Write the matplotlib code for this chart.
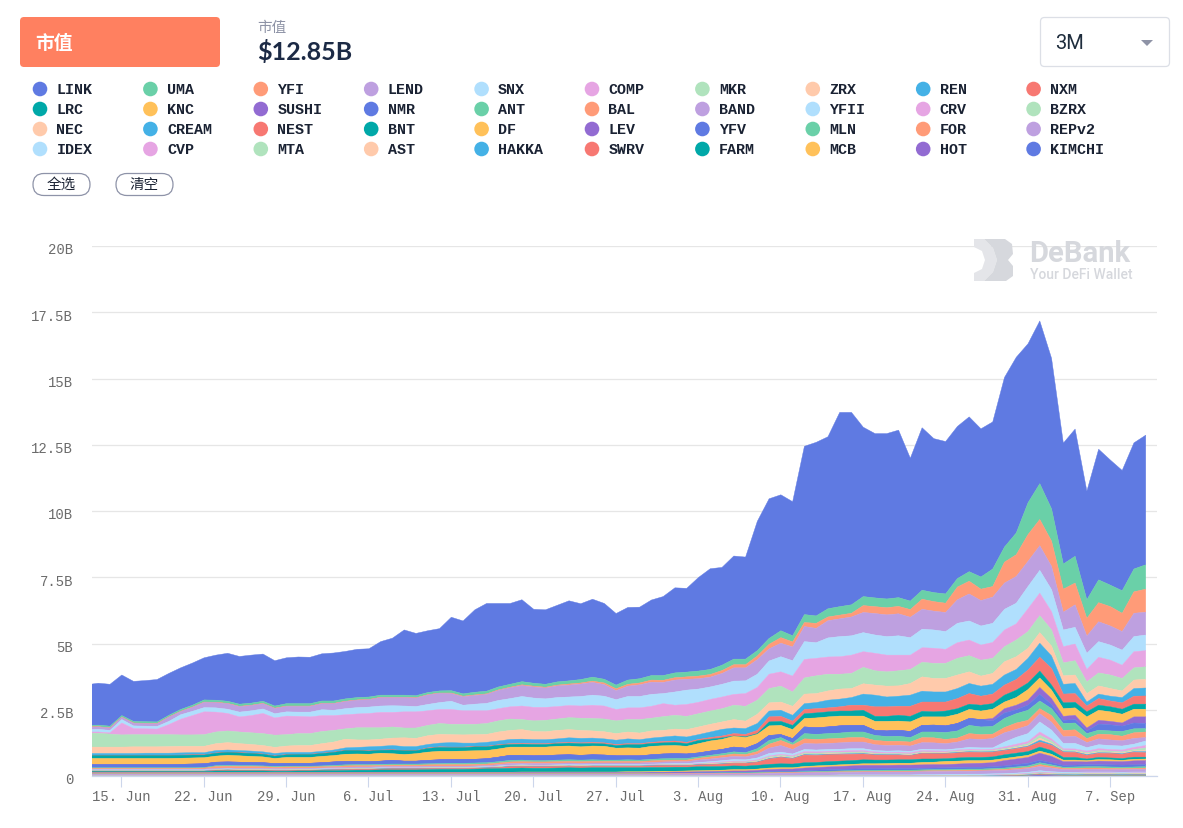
import matplotlib
matplotlib.use("Agg")
import matplotlib.pyplot as plt
import pandas as pd
from matplotlib.patches import FancyBboxPatch, Circle, Polygon
from matplotlib.transforms import ScaledTranslation

W, H = 1183, 829
dates = pd.date_range("2020-06-12", periods=91, freq="D")
tick_dates = pd.date_range("2020-06-15", periods=13, freq="7D")
x_labels = ["15. Jun","22. Jun","29. Jun","6. Jul","13. Jul","20. Jul","27. Jul","3. Aug","10. Aug","17. Aug","24. Aug","31. Aug","7. Sep"]
y_ticks = [0, 2.5, 5, 7.5, 10, 12.5, 15, 17.5, 20]
y_labels = ["0","2.5B","5B","7.5B","10B","12.5B","15B","17.5B","20B"]

names = ["LINK","UMA","YFI","LEND","SNX","COMP","MKR","ZRX","REN","NXM",
         "LRC","KNC","SUSHI","NMR","ANT","BAL","BAND","YFII","CRV","BZRX",
         "NEC","CREAM","NEST","BNT","DF","LEV","YFV","MLN","FOR","REPv2",
         "IDEX","CVP","MTA","AST","HAKKA","SWRV","FARM","MCB","HOT","KIMCHI"]
palette = ["#5f7ae2","#6ad0a8","#ff9b78","#bea0e0","#b0dffd","#e6a5e3","#b0e3bd","#ffcaab","#44b1e6","#f77872","#00a8a8","#ffc15a","#926bd2"]

# Upper edge of each stacked band, in billions
LINK_top = [3.46,3.52,3.48,3.83,3.59,3.62,3.66,3.89,4.10,4.28, 4.48,4.58,4.65,4.53,4.58,4.62,4.37,4.48,4.51,4.50, 4.63,4.66,4.72,4.80,4.82,5.09,5.22,5.53,5.40,5.50, 5.58,6.01,5.87,6.29,6.53,6.53,6.53,6.67,6.31,6.29, 6.46,6.63,6.52,6.69,6.53,6.15,6.38,6.39,6.66,6.79, 7.12,7.10,7.51,7.84,7.89,8.32,8.28,9.63,10.48,10.63, 10.37,12.46,12.61,12.82,13.74,13.74,13.18,12.94,12.94,13.07, 12.01,13.16,12.75,12.64,13.21,13.57,13.12,13.38,15.06,15.82, 16.33,17.19,15.78,12.58,13.11,10.77,12.35,11.94,11.55,12.59, 12.88]
UMA_top = [1.93,1.94,1.90,2.30,2.08,2.07,2.06,2.31,2.53,2.69, 2.89,2.88,2.84,2.73,2.77,2.84,2.66,2.75,2.75,2.75, 2.85,2.85,2.93,2.98,3.00,3.07,3.07,3.07,3.05,3.17, 3.23,3.24,3.12,3.18,3.22,3.38,3.48,3.58,3.52,3.48, 3.57,3.61,3.66,3.75,3.67,3.45,3.64,3.69,3.81,3.81, 3.91,3.94,3.98,4.04,4.20,4.43,4.43,4.75,5.21,5.50, 5.31,6.11,6.06,6.33,6.41,6.48,6.79,6.74,6.70,6.75, 6.62,7.03,6.94,6.89,7.47,7.73,7.53,7.83,8.66,9.19, 10.33,11.05,10.10,8.02,8.31,6.67,7.42,7.22,7.01,7.83, 7.99]
YFI_top = [1.87,1.88,1.84,2.24,2.02,2.01,2.00,2.25,2.46,2.62, 2.81,2.80,2.76,2.65,2.69,2.76,2.58,2.66,2.66,2.66, 2.76,2.76,2.84,2.89,2.91,2.99,2.99,2.99,2.97,3.09, 3.15,3.15,3.03,3.08,3.12,3.27,3.37,3.46,3.41,3.37, 3.45,3.49,3.53,3.60,3.53,3.31,3.48,3.53,3.64,3.63, 3.73,3.76,3.79,3.85,4.00,4.22,4.22,4.55,4.99,5.24, 5.08,5.81,5.78,6.02,6.09,6.16,6.45,6.41,6.37,6.42, 6.30,6.69,6.60,6.54,7.15,7.37,7.07,7.17,8.09,8.37, 9.13,9.70,8.88,7.07,7.30,5.97,6.56,6.41,6.16,6.97, 7.07]
LEND_top = [1.86,1.87,1.83,2.23,2.01,2.00,1.99,2.24,2.45,2.61, 2.80,2.79,2.75,2.64,2.68,2.75,2.57,2.65,2.65,2.65, 2.75,2.75,2.83,2.88,2.90,2.98,2.98,2.98,2.96,3.08, 3.14,3.13,3.01,3.06,3.10,3.25,3.35,3.43,3.38,3.34, 3.42,3.45,3.49,3.55,3.47,3.24,3.41,3.46,3.56,3.55, 3.64,3.67,3.69,3.75,3.89,4.10,4.10,4.41,4.82,5.03, 4.89,5.66,5.59,5.88,5.95,6.02,6.19,6.15,6.10,6.14, 6.01,6.31,6.24,6.19,6.67,6.89,6.64,6.77,7.30,7.55, 8.12,8.71,7.93,6.20,6.48,5.30,5.84,5.68,5.47,6.16, 6.20]
SNX_top = [1.77,1.78,1.74,2.15,1.91,1.90,1.89,2.08,2.33,2.46, 2.60,2.59,2.54,2.43,2.48,2.55,2.37,2.44,2.43,2.43, 2.52,2.50,2.56,2.60,2.62,2.66,2.67,2.66,2.64,2.72, 2.79,2.84,2.69,2.73,2.76,2.87,2.94,3.02,2.96,2.93, 2.98,3.00,3.02,3.07,3.03,2.90,3.02,3.02,3.10,3.13, 3.19,3.26,3.30,3.38,3.48,3.60,3.61,3.86,4.36,4.52, 4.37,5.09,5.05,5.23,5.28,5.31,5.43,5.34,5.28,5.31, 5.24,5.56,5.53,5.47,5.78,5.87,5.68,5.78,6.31,6.54, 7.17,7.78,7.05,5.53,5.63,4.65,5.09,4.96,4.77,5.28, 5.34]
COMP_top = [1.68,1.68,1.65,2.02,1.81,1.80,1.79,1.96,2.16,2.30, 2.44,2.43,2.38,2.25,2.30,2.38,2.21,2.28,2.27,2.25, 2.30,2.30,2.33,2.36,2.38,2.42,2.42,2.44,2.44,2.48, 2.53,2.53,2.48,2.48,2.48,2.56,2.63,2.66,2.61,2.61, 2.64,2.68,2.66,2.69,2.66,2.53,2.59,2.59,2.65,2.75, 2.69,2.72,2.80,2.91,3.00,3.10,3.13,3.36,3.86,3.95, 3.79,4.42,4.46,4.51,4.52,4.58,4.71,4.65,4.58,4.58, 4.58,4.86,4.84,4.80,5.05,5.15,4.96,5.06,5.53,5.76, 6.33,6.92,6.22,4.90,5.00,4.04,4.50,4.39,4.20,4.71, 4.75]
MKR_top = [1.64,1.63,1.60,1.57,1.58,1.58,1.58,1.58,1.57,1.57, 1.58,1.68,1.72,1.68,1.65,1.62,1.56,1.58,1.62,1.62, 1.70,1.74,1.80,1.84,1.84,1.84,1.87,1.83,1.83,1.93, 2.00,1.97,1.97,1.97,2.00,2.10,2.17,2.15,2.10,2.12, 2.17,2.22,2.20,2.19,2.17,2.10,2.15,2.15,2.20,2.26, 2.31,2.27,2.37,2.47,2.56,2.69,2.65,2.88,3.32,3.41, 3.19,3.72,3.80,3.86,3.86,3.89,4.12,3.99,3.95,3.99, 4.04,4.31,4.27,4.27,4.46,4.56,4.39,4.46,4.90,5.15, 5.47,6.07,5.53,4.29,4.37,3.57,3.91,3.83,3.70,4.10, 4.14]
ZRX_top = [1.11,1.11,1.11,1.11,1.12,1.12,1.12,1.13,1.14,1.14, 1.14,1.24,1.28,1.24,1.21,1.17,1.10,1.15,1.17,1.17, 1.24,1.30,1.41,1.38,1.38,1.41,1.45,1.46,1.44,1.54, 1.59,1.58,1.57,1.58,1.59,1.68,1.74,1.77,1.70,1.69, 1.74,1.77,1.74,1.72,1.69,1.62,1.68,1.64,1.72,1.74, 1.79,1.77,1.87,1.97,2.06,2.15,2.09,2.35,2.78,2.81, 2.65,3.11,3.13,3.23,3.30,3.32,3.50,3.45,3.41,3.42, 3.51,3.76,3.70,3.70,3.83,3.95,3.79,3.89,4.33,4.52, 4.84,5.43,4.92,3.80,3.83,3.13,3.42,3.32,3.23,3.64, 3.67]
REN_top = [.87,.87,.87,.87,.87,.88,.88,.88,.89,.90, .90,.98,1.00,.98,.96,.93,.87,.91,.91,.91, .95,1.00,1.08,1.10,1.12,1.14,1.17,1.13,1.13,1.21, 1.26,1.28,1.26,1.26,1.29,1.34,1.40,1.41,1.39,1.39, 1.42,1.46,1.44,1.45,1.42,1.37,1.42,1.39,1.45,1.49, 1.53,1.49,1.58,1.68,1.78,1.83,1.81,2.00,2.47,2.50, 2.31,2.75,2.79,2.88,2.92,2.98,3.11,3.07,3.00,3.03, 3.07,3.22,3.19,3.19,3.32,3.51,3.41,3.48,3.83,4.04, 4.46,5.03,4.55,3.48,3.51,2.81,3.11,3.03,2.98,3.32, 3.34]
NXM_top = [.80,.80,.80,.80,.80,.80,.80,.80,.81,.82, .82,.89,.92,.90,.88,.85,.78,.83,.84,.84, .88,.92,.99,.99,.97,1.00,1.01,.98,.98,1.08, 1.12,1.11,1.11,1.14,1.14,1.20,1.24,1.25,1.24,1.24, 1.27,1.29,1.27,1.29,1.27,1.21,1.24,1.24,1.29,1.32, 1.34,1.29,1.40,1.47,1.53,1.62,1.59,1.74,2.25,2.27, 2.09,2.53,2.56,2.59,2.63,2.69,2.69,2.63,2.63,2.65, 2.65,2.81,2.81,2.81,2.94,3.13,3.03,3.11,3.45,3.66, 4.02,4.50,4.08,3.11,3.13,2.66,2.94,2.85,2.78,3.03, 3.04]
LRC_top = [.79,.79,.79,.79,.79,.79,.79,.79,.80,.81, .81,.88,.91,.89,.87,.84,.77,.82,.83,.83, .87,.91,.98,.98,.96,.99,1.00,.97,.97,1.06, 1.10,1.09,1.09,1.12,1.12,1.18,1.21,1.22,1.21,1.21, 1.24,1.26,1.24,1.25,1.23,1.17,1.20,1.20,1.25,1.27, 1.29,1.24,1.36,1.41,1.46,1.53,1.50,1.62,2.06,2.08, 1.93,2.37,2.40,2.44,2.47,2.47,2.50,2.27,2.27,2.31, 2.27,2.46,2.44,2.47,2.56,2.73,2.69,2.75,3.07,3.26, 3.53,3.98,3.45,2.78,2.80,2.44,2.69,2.63,2.54,2.73, 2.73]
KNC_top = [.68,.68,.68,.68,.68,.68,.68,.68,.69,.70, .71,.77,.80,.78,.76,.74,.68,.72,.72,.72, .76,.79,.84,.85,.84,.88,.86,.83,.86,.92, .95,.95,.96,.97,.98,1.04,1.11,1.11,1.11,1.11, 1.14,1.15,1.12,1.15,1.14,1.07,1.08,1.07,1.14,1.16, 1.17,1.14,1.24,1.34,1.40,1.52,1.47,1.59,1.91,1.93, 1.77,2.19,2.21,2.25,2.28,2.28,2.28,2.08,2.08,2.09, 2.06,2.25,2.25,2.25,2.35,2.53,2.47,2.54,2.81,2.98, 3.28,3.72,3.26,2.56,2.59,2.25,2.50,2.44,2.35,2.54, 2.54]
SUSHI_top = [.45,.45,.45,.45,.45,.45,.45,.45,.46,.47, .48,.54,.55,.54,.53,.52,.49,.50,.50,.50, .52,.55,.57,.57,.56,.58,.61,.58,.58,.61, .63,.64,.64,.65,.67,.73,.80,.80,.78,.79, .81,.82,.80,.82,.81,.78,.78,.78,.82,.85, .86,.85,.89,.96,1.02,1.11,1.07,1.24,1.55,1.58, 1.43,1.87,1.84,1.87,1.91,1.93,1.93,1.74,1.72,1.74, 1.70,1.93,1.94,1.91,2.00,2.19,2.15,2.19,2.56,2.69, 2.88,3.36,2.94,2.27,2.31,1.83,2.12,2.08,2.02,2.25, 2.25]
NMR_top = [.45,.45,.45,.45,.45,.45,.45,.45,.46,.47, .48,.54,.55,.54,.53,.52,.49,.50,.50,.50, .52,.55,.57,.57,.56,.58,.61,.58,.58,.61, .63,.64,.64,.65,.67,.73,.80,.80,.78,.79, .81,.82,.80,.82,.81,.78,.78,.78,.82,.85, .86,.85,.89,.96,1.02,1.11,1.07,1.24,1.55,1.58, 1.43,1.87,1.84,1.87,1.91,1.93,1.93,1.74,1.72,1.74, 1.70,1.93,1.94,1.91,2.00,2.19,2.15,2.10,2.40,2.52, 2.70,3.10,2.72,2.12,2.15,1.72,1.98,1.95,1.90,2.02, 2.00]
ANT_top = [.33,.33,.33,.33,.33,.33,.33,.33,.33,.33, .34,.41,.42,.41,.41,.40,.38,.39,.39,.39, .40,.42,.44,.45,.45,.46,.47,.47,.47,.48, .49,.50,.50,.51,.52,.56,.61,.62,.60,.60, .62,.63,.62,.63,.62,.62,.63,.62,.65,.67, .68,.68,.74,.80,.86,.93,.90,1.05,1.36,1.47, 1.26,1.62,1.59,1.62,1.64,1.68,1.68,1.55,1.51,1.52, 1.47,1.68,1.68,1.66,1.72,1.93,1.87,1.89,2.19,2.37, 2.50,2.85,2.56,2.00,2.02,1.62,1.75,1.72,1.70,1.80, 1.81]
BAL_top = [.31,.31,.31,.31,.31,.31,.31,.31,.31,.31, .32,.38,.39,.38,.38,.37,.35,.36,.36,.36, .37,.38,.40,.41,.41,.42,.43,.43,.43,.44, .45,.45,.45,.46,.47,.51,.55,.56,.55,.55, .56,.57,.56,.57,.57,.57,.57,.57,.59,.61, .62,.62,.69,.74,.79,.85,.83,.94,1.22,1.36, 1.19,1.42,1.40,1.42,1.44,1.47,1.47,1.36,1.33,1.33, 1.30,1.47,1.46,1.40,1.45,1.62,1.58,1.60,1.85,2.02, 2.12,2.56,2.30,1.74,1.76,1.43,1.60,1.58,1.52,1.65, 1.68]
BAND_top = [.27,.27,.27,.27,.27,.27,.27,.27,.27,.27, .28,.31,.32,.31,.31,.31,.30,.30,.31,.31, .32,.33,.35,.36,.36,.37,.38,.38,.38,.39, .39,.39,.39,.40,.41,.45,.49,.50,.49,.49, .50,.51,.50,.51,.51,.51,.51,.51,.53,.55, .56,.56,.62,.66,.71,.76,.74,.84,1.07,1.17, 1.02,1.25,1.23,1.25,1.27,1.30,1.30,1.20,1.17,1.18, 1.15,1.28,1.27,1.24,1.30,1.42,1.40,1.43,1.65,1.78, 1.92,2.37,2.05,1.50,1.52,1.28,1.42,1.38,1.35,1.44, 1.47]
YFII_top = [.25,.25,.25,.25,.25,.25,.25,.25,.25,.25, .25,.28,.29,.28,.28,.28,.27,.27,.28,.28, .29,.30,.31,.32,.32,.33,.34,.34,.34,.35, .35,.35,.35,.36,.37,.40,.43,.44,.43,.43, .44,.45,.44,.45,.45,.45,.45,.45,.47,.48, .49,.49,.53,.56,.60,.64,.63,.70,.87,.92, .85,1.02,1.00,1.02,1.03,1.05,1.05,.98,.96,.97, .95,1.03,1.02,1.01,1.05,1.10,1.08,1.08,1.30,1.48, 1.62,2.06,1.75,1.25,1.25,1.09,1.20,1.17,1.15,1.22, 1.34]
CRV_top = [.24,.24,.24,.24,.24,.24,.24,.24,.24,.24, .24,.27,.28,.27,.27,.27,.26,.26,.27,.27, .28,.29,.30,.31,.31,.32,.33,.33,.33,.34, .34,.34,.34,.35,.36,.38,.41,.42,.41,.41, .42,.43,.42,.43,.43,.43,.43,.43,.44,.45, .46,.46,.49,.52,.55,.58,.58,.63,.78,.84, .79,.94,.93,.95,.96,.98,.98,.93,.91,.92, .90,.98,.97,.96,1.00,1.03,1.02,1.03,1.12,1.22, 1.32,1.68,1.42,1.05,1.04,.96,1.05,1.02,1.00,1.10, 1.17]
BZRX_top = [.23,.23,.23,.23,.23,.23,.23,.23,.23,.23, .23,.26,.27,.26,.26,.26,.25,.25,.26,.26, .27,.28,.29,.30,.30,.31,.32,.32,.32,.33, .33,.33,.33,.34,.35,.37,.40,.41,.40,.40, .41,.42,.41,.42,.42,.42,.42,.42,.43,.44, .44,.44,.47,.49,.52,.55,.55,.60,.74,.80, .75,.89,.88,.90,.91,.92,.93,.88,.87,.87, .85,.93,.92,.92,.96,.99,.98,.99,1.06,1.14, 1.24,1.56,1.34,1.00,.99,.90,.98,.96,.93,1.02, 1.08]
NEC_top = [.22,.22,.22,.22,.22,.22,.22,.22,.22,.22, .22,.25,.26,.25,.25,.25,.24,.24,.25,.25, .26,.27,.28,.29,.29,.30,.31,.31,.31,.32, .32,.32,.32,.33,.34,.36,.39,.40,.39,.39, .40,.41,.40,.41,.41,.41,.41,.41,.42,.43, .43,.43,.46,.48,.50,.53,.53,.57,.70,.76, .71,.85,.84,.86,.87,.88,.89,.85,.84,.84, .82,.90,.89,.90,.93,.96,.95,.96,1.02,1.10, 1.18,1.45,1.26,.96,.95,.86,.93,.92,.89,.97, .98]
CREAM_top = [.21,.21,.21,.21,.21,.21,.21,.21,.21,.21, .21,.24,.25,.24,.24,.24,.23,.23,.24,.24, .25,.26,.27,.28,.28,.29,.30,.30,.30,.31, .31,.31,.31,.32,.33,.35,.38,.39,.38,.38, .39,.40,.39,.40,.40,.40,.40,.40,.41,.42, .42,.42,.45,.46,.48,.51,.51,.55,.68,.74, .69,.83,.82,.84,.85,.86,.87,.83,.82,.82, .80,.88,.87,.88,.91,.94,.93,.94,1.00,1.07, 1.15,1.37,1.22,.94,.93,.83,.90,.89,.86,.94, .94]
NEST_top = [.20,.20,.20,.20,.20,.20,.20,.20,.20,.20, .20,.23,.24,.23,.23,.23,.22,.22,.23,.23, .24,.25,.26,.27,.27,.28,.29,.29,.29,.30, .30,.30,.30,.31,.32,.34,.37,.38,.37,.37, .38,.39,.38,.39,.39,.39,.39,.39,.40,.41, .41,.41,.44,.45,.47,.50,.50,.54,.66,.72, .67,.81,.80,.82,.83,.84,.85,.81,.81,.81, .79,.87,.86,.86,.89,.92,.91,.92,.98,1.05, 1.12,1.30,1.18,.92,.91,.80,.88,.87,.84,.92, .90]
BNT_top = [.19,.19,.19,.19,.19,.19,.19,.19,.19,.19, .19,.21,.21,.21,.21,.21,.20,.20,.21,.21, .22,.22,.23,.24,.24,.25,.25,.25,.25,.26, .27,.27,.27,.28,.29,.30,.31,.32,.31,.31, .32,.33,.32,.33,.33,.33,.33,.33,.34,.34, .35,.35,.37,.37,.38,.40,.39,.42,.46,.48, .47,.52,.53,.56,.58,.60,.63,.62,.62,.63, .63,.66,.66,.67,.70,.72,.72,.74,.82,.88, .94,1.11,.98,.72,.72,.66,.72,.70,.68,.73, .73]
DF_top = [.15]*31 + [.16,.16,.16,.16,.16,.16,.17,.17,.17, .17,.17,.17,.17,.17,.17,.18,.18,.19,.20, .20,.21,.22,.23,.24,.26,.26,.28,.32,.33, .33,.38,.40,.42,.44,.46,.48,.48,.49,.50, .50,.53,.54,.57,.58,.60,.60,.62,.68,.74, .80,.96,.84,.62,.62,.60,.64,.63,.61,.65, .66]
LEV_top = [.14]*37 + [.15,.15,.15, .15,.15,.15,.15,.15,.15,.15,.15,.16,.16, .17,.17,.18,.19,.20,.21,.21,.23,.26,.28, .28,.32,.34,.36,.38,.40,.42,.42,.42,.43, .43,.44,.45,.45,.47,.49,.50,.52,.60,.66, .72,.88,.76,.56,.56,.55,.58,.57,.56,.59, .60]
YFV_top = [.12]*48 + [.13,.13, .13,.13,.14,.14,.15,.16,.16,.17,.19,.20, .20,.22,.24,.26,.27,.28,.29,.29,.30,.30, .30,.31,.32,.33,.34,.35,.35,.37,.40,.45, .50,.61,.52,.42,.43,.45,.45,.44,.43,.44, .45]
MLN_top = [.11]*50 + [.12,.12,.13,.13,.14,.14,.14,.15,.16,.17, .17,.18,.19,.20,.21,.22,.23,.23,.24,.24, .24,.25,.26,.26,.27,.28,.28,.30,.32,.36, .40,.52,.44,.35,.36,.37,.37,.36,.35,.36, .37]
FOR_top = [.10]*50 + [.11,.11,.12,.12,.12,.12,.12,.13,.14,.15, .15,.16,.17,.17,.18,.18,.19,.19,.20,.20, .20,.21,.22,.22,.23,.24,.24,.25,.27,.31, .34,.45,.38,.31,.31,.32,.32,.31,.30,.31, .32]
REPv2_top = [.09]*50 + [.10,.10,.10,.10,.10,.10,.10,.11,.12,.13, .13,.14,.15,.15,.16,.16,.17,.17,.17,.17, .17,.18,.19,.19,.20,.20,.21,.22,.23,.26, .30,.38,.32,.26,.26,.27,.27,.26,.26,.27, .27]
IDEX_top = [.03]*60 + [.04,.05,.05,.05,.06,.06,.06,.06,.06,.06, .06,.07,.07,.08,.08,.09,.09,.10,.11,.13, .16,.22,.18,.16,.16,.17,.17,.17,.16,.17, .17]
CVP_top = [.025]*70 + [.03,.03,.03,.04,.04,.05,.05,.06,.07,.09, .12,.17,.14,.12,.13,.14,.14,.14,.13,.14, .14]
MTA_top = [.02]*70 + [.022,.022,.022,.03,.03,.04,.04,.05,.06,.07, .10,.14,.12,.10,.11,.12,.12,.12,.11,.12, .12]
AST_top = [.018]*70 + [.02,.02,.02,.022,.022,.03,.03,.04,.05,.06, .08,.11,.10,.09,.09,.10,.10,.10,.09,.10, .10]
HAKKA_top = [.015]*75 + [.02,.02,.03,.035,.045,.065,.10,.08,.075,.07,.08,.08,.08,.075,.08,.08]
SWRV_top = [.012]*78 + [.025,.035,.05,.08,.06,.055,.05,.06,.06,.06,.055,.06,.06]
FARM_top = [.009]*78 + [.01,.015,.035,.055,.042,.032,.032,.036,.036,.036,.032,.036,.036]
MCB_top = [.007]*78 + [.008,.012,.025,.04,.03,.022,.022,.022,.022,.022,.022,.022,.022]
HOT_top = [.005]*78 + [.006,.009,.02,.035,.025,.017,.017,.017,.017,.017,.017,.017,.017]
KIMCHI_top = [.002]*78 + [.003,.006,.015,.03,.02,.012,.012,.012,.012,.012,.012,.012,.012]

band_tops = [LINK_top,UMA_top,YFI_top,LEND_top,SNX_top,COMP_top,MKR_top,ZRX_top,REN_top,NXM_top,
             LRC_top,KNC_top,SUSHI_top,NMR_top,ANT_top,BAL_top,BAND_top,YFII_top,CRV_top,BZRX_top,
             NEC_top,CREAM_top,NEST_top,BNT_top,DF_top,LEV_top,YFV_top,MLN_top,FOR_top,REPv2_top,
             IDEX_top,CVP_top,MTA_top,AST_top,HAKKA_top,SWRV_top,FARM_top,MCB_top,HOT_top,KIMCHI_top]

fig = plt.figure(figsize=(W/100, H/100), dpi=100, facecolor="white")
ax = fig.add_axes([92/W, 1-777/H, (1157-92)/W, (777-247)/H])
ax.set_facecolor("none")
mono = "Liberation Mono"

for i, top in enumerate(band_tops):
    lower = band_tops[i+1] if i+1 < len(band_tops) else [0]*len(top)
    c = palette[i % len(palette)]
    ax.fill_between(dates, lower, top, color=c, linewidth=0.3, zorder=2+i*0.01)

ax.set_ylim(0, 20)
ax.set_xlim(pd.Timestamp("2020-06-12 12:15"), pd.Timestamp("2020-09-11 00:00"))
ax.set_yticks(y_ticks)
ax.set_yticklabels(y_labels, fontfamily=mono, fontsize=10, color="#6b6b6b")
ax.set_xticks(tick_dates)
ax.set_xticklabels(x_labels, fontfamily=mono, fontsize=10, color="#6b6b6b")
ax.tick_params(axis="y", length=0, pad=13.5)
ax.tick_params(axis="x", length=8, width=0.8, color="#ccd6eb", pad=1.5)
shift = ScaledTranslation(0, -2/100, fig.dpi_scale_trans)
for lab in ax.get_yticklabels():
    lab.set_transform(lab.get_transform() + shift)
ax.grid(axis="y", color="#e6e6e6", linewidth=0.9, zorder=0)
ax.set_axisbelow(True)
for s in ["top", "right", "left"]:
    ax.spines[s].set_visible(False)
ax.spines["bottom"].set_color("#ccd6eb")
ax.spines["bottom"].set_linewidth(0.9)

# page furniture in pixel coordinates
ov = fig.add_axes([0, 0, 1, 1], facecolor="none")
ov.set_xlim(0, W)
ov.set_ylim(H, 0)
ov.axis("off")
cjk = ["Noto Sans CJK SC", "DejaVu Sans"]

ov.add_patch(FancyBboxPatch((20, 18), 200, 50, boxstyle="round,pad=0,rounding_size=4", lw=0, fc="#ff8060"))
ov.text(35, 43, "市值", color="white", fontsize=13.5, fontweight="bold", family=cjk, va="center", ha="left")
ov.text(257, 28, "市值", color="#8e93a6", fontsize=10.5, family=cjk, va="center", ha="left")
ov.text(257, 52, "$12.85B", color="#1c2a45", fontsize=18, family="Lato", fontweight="bold", va="center", ha="left")
ov.add_patch(FancyBboxPatch((1040.5, 18.5), 129, 49, boxstyle="round,pad=0,rounding_size=4", lw=0.9, ec="#dcdfe6", fc="white"))
ov.text(1055, 43, "3M", color="#1f2d3d", fontsize=14.5, family="Roboto", va="center", ha="left")
ov.add_patch(Polygon([[1141, 41], [1153, 41], [1147, 47]], closed=True, fc="#8e93a6", ec="none"))

col_x = [40 + 110.4*k for k in range(10)]
row_y = [90, 110, 130, 150]
for i, name in enumerate(names):
    r, c = divmod(i, 10)
    ov.add_patch(Circle((col_x[c], row_y[r]), 7.3, fc=palette[i % 13], ec="none"))
    ov.text(col_x[c]+16.5, row_y[r], name, family=mono, fontsize=10.8, fontweight="bold", color="#1a2233", va="center", ha="left")

for bx, t in [(33, "全选"), (116, "清空")]:
    ov.add_patch(FancyBboxPatch((bx, 174.5), 57, 22, boxstyle="round,pad=0,rounding_size=11", lw=0.9, ec="#8e93a8", fc="white"))
    ov.text(bx+28.5, 185, t, family=cjk, fontsize=10.5, color="#1a2233", va="center", ha="center")

# DeBank watermark
ov.add_patch(Polygon([[974, 240], [984, 240], [993, 249], [997, 261], [993, 273], [984, 282], [974, 282], [974, 274], [982, 270], [985, 261], [982, 252], [974, 248]], closed=True, fc="#e4e5e9", ec="none"))
ov.add_patch(Polygon([[984, 240], [1005, 240], [1012, 245], [1013, 255], [1008, 261], [1013, 267], [1013, 277], [1006, 282], [984, 282], [993, 273], [997, 261], [993, 249]], closed=True, fc="#d6d8dd", ec="none"))
ov.text(1029, 254, "DeBank", family="Roboto", fontweight="bold", fontsize=21, color="#d6d8dd", va="center", ha="left")
ov.text(1030.5, 275, "Your DeFi Wallet", family="Roboto", fontweight="medium", fontsize=10, color="#d6d8dd", va="center", ha="left")

fig.savefig("out.png", dpi=100, facecolor="white")
